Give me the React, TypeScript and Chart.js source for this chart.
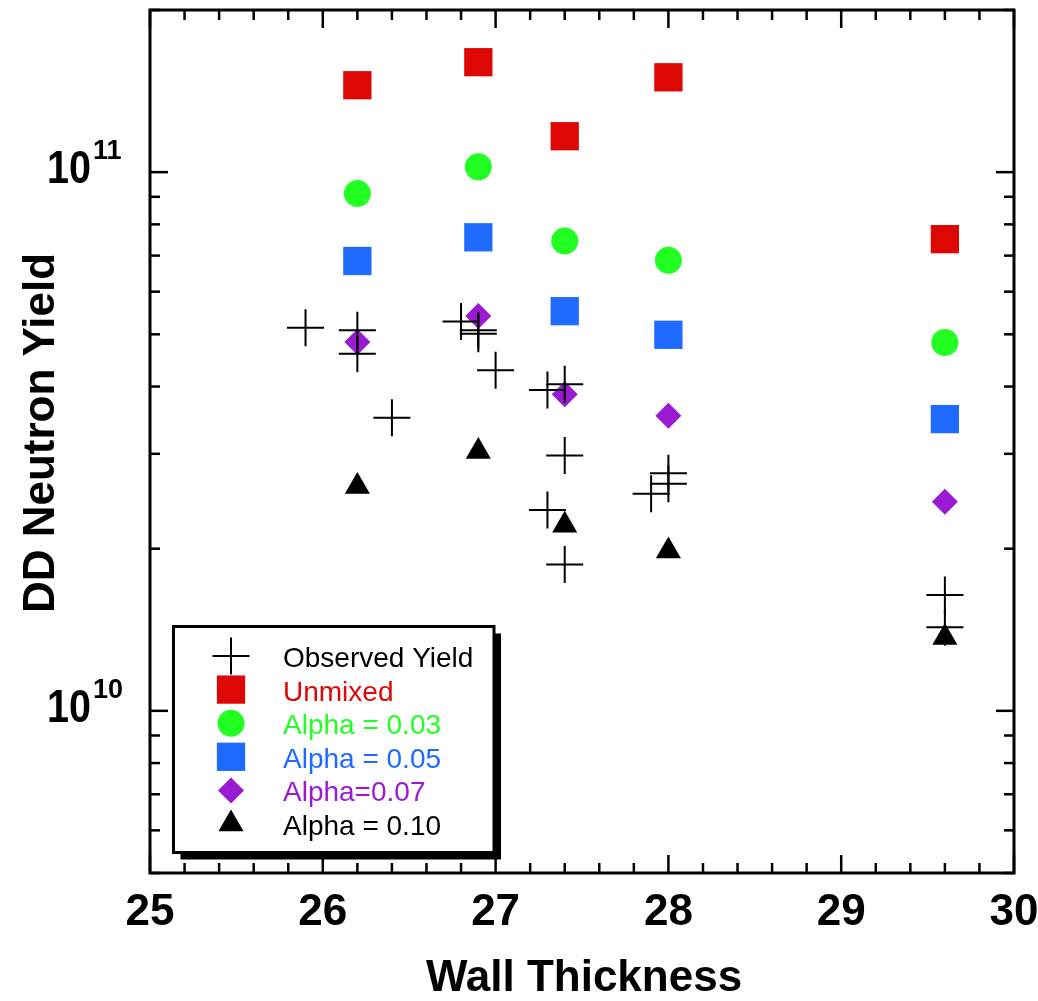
import React, { useEffect, useRef } from 'react';
import { Chart, registerables } from 'chart.js';

Chart.register(...registerables);

// ---------- data ----------
const observedX = [25.9, 26.2, 26.2, 26.4, 26.8, 26.9, 26.9, 27.0, 27.3, 27.4, 27.4, 27.3, 27.4, 27.9, 28.0, 28.0, 29.6, 29.6];
const observedY = [5.14e10, 5.09e10, 4.6e10, 3.5e10, 5.28e10, 5.09e10, 5.01e10, 4.29e10, 3.94e10, 4.04e10, 2.98e10, 2.36e10, 1.87e10, 2.53e10, 2.76e10, 2.64e10, 1.64e10, 1.43e10];

const modelX = [26.2, 26.9, 27.4, 28.0, 29.6];
const unmixedY = [1.45e11, 1.6e11, 1.166e11, 1.5e11, 7.51e10];
const alpha03Y = [9.13e10, 1.023e11, 7.45e10, 6.86e10, 4.83e10];
const alpha05Y = [6.84e10, 7.57e10, 5.52e10, 4.99e10, 3.48e10];
const alpha07Y = [4.84e10, 5.41e10, 3.87e10, 3.53e10, 2.445e10];
const alpha10Y = [2.61e10, 3.03e10, 2.21e10, 1.98e10, 1.368e10];

const seriesLabels = ['Observed Yield', 'Unmixed', 'Alpha = 0.03', 'Alpha = 0.05', 'Alpha=0.07', 'Alpha = 0.10'];
const seriesColors = ['#000000', '#DD0806', '#22FF22', '#1F6BFF', '#9A1AD4', '#000000'];

const xTickValues = [25, 26, 27, 28, 29, 30];
const yMajorTicks = [1e10, 1e11];
const xTitle = 'Wall Thickness';
const yTitle = 'DD Neutron Yield';

const X_MIN = 25;
const X_MAX = 30;
const Y_MIN = 5e9;
const Y_MAX = 2e11;

const FONT = '"Liberation Sans", Arial, Helvetica, sans-serif';

// marker styles (pointStyle, radius)
const markerStyles: { style: string; radius: number }[] = [
  { style: 'cross', radius: 18.5 },
  { style: 'rect', radius: 20 },
  { style: 'circle', radius: 13.5 },
  { style: 'rect', radius: 20 },
  { style: 'rectRot', radius: 13 },
  { style: 'triangle', radius: 14.5 },
];

function drawMarker(ctx: CanvasRenderingContext2D, style: string, r: number, x: number, y: number, color: string) {
  ctx.save();
  ctx.fillStyle = color;
  ctx.strokeStyle = color;
  ctx.beginPath();
  if (style === 'cross') {
    ctx.lineWidth = 2;
    ctx.moveTo(x - r, y);
    ctx.lineTo(x + r, y);
    ctx.moveTo(x, y - r);
    ctx.lineTo(x, y + r);
    ctx.stroke();
  } else if (style === 'rect') {
    const s = Math.SQRT1_2 * r;
    ctx.rect(x - s, y - s, 2 * s, 2 * s);
    ctx.fill();
  } else if (style === 'circle') {
    ctx.arc(x, y, r, 0, Math.PI * 2);
    ctx.fill();
  } else if (style === 'rectRot') {
    ctx.moveTo(x - r, y);
    ctx.lineTo(x, y - r);
    ctx.lineTo(x + r, y);
    ctx.lineTo(x, y + r);
    ctx.closePath();
    ctx.fill();
  } else if (style === 'triangle') {
    const w = r * Math.sqrt(3) / 2;
    ctx.moveTo(x, y - r);
    ctx.lineTo(x + w, y + r / 2);
    ctx.lineTo(x - w, y + r / 2);
    ctx.closePath();
    ctx.fill();
  }
  ctx.restore();
}

const legendPlugin = {
  id: 'boxLegend',
  afterDatasetsDraw(chart: any) {
    const ctx: CanvasRenderingContext2D = chart.ctx;
    const left = 173.5, top = 626.5, right = 494, bottom = 852.5;
    ctx.save();
    // shadow
    ctx.fillStyle = '#000';
    ctx.fillRect(left + 7, top + 7, right - left, bottom - top);
    ctx.fillStyle = '#fff';
    ctx.fillRect(left, top, right - left, bottom - top);
    ctx.lineWidth = 3;
    ctx.strokeStyle = '#000';
    ctx.strokeRect(left, top, right - left, bottom - top);

    ctx.font = `28px ${FONT}`;
    ctx.textAlign = 'left';
    ctx.textBaseline = 'alphabetic';
    seriesLabels.forEach((label, i) => {
      const baseY = 667 + i * 33.6;
      const m = markerStyles[i];
      drawMarker(ctx, m.style, m.radius, 231, baseY - 11, seriesColors[i]);
      ctx.fillStyle = seriesColors[i];
      ctx.fillText(label, 283, baseY);
    });
    ctx.restore();
  },
};

const framePlugin = {
  id: 'frame',
  afterDraw(chart: any) {
    const ctx: CanvasRenderingContext2D = chart.ctx;
    const a = chart.chartArea;
    const xs = chart.scales.x;
    const ys = chart.scales.y;
    ctx.save();
    ctx.strokeStyle = '#000';
    ctx.fillStyle = '#000';
    ctx.lineCap = 'butt';
    ctx.lineWidth = 2.5;
    const line = (x1: number, y1: number, x2: number, y2: number) => {
      ctx.beginPath();
      ctx.moveTo(x1, y1);
      ctx.lineTo(x2, y2);
      ctx.stroke();
    };
    // x ticks (inward, top & bottom), minor every 0.2
    const nx = Math.round((X_MAX - X_MIN) / 0.2);
    for (let i = 0; i <= nx; i++) {
      const v = X_MIN + i * 0.2;
      const px = xs.getPixelForValue(v);
      const len = i % 5 === 0 ? 18 : 10;
      line(px, a.bottom, px, a.bottom - len);
      line(px, a.top, px, a.top + len);
    }
    // y ticks (log, inward, left & right)
    for (let d = 9; d <= 11; d++) {
      for (let m = 1; m <= 9; m++) {
        const v = m * Math.pow(10, d);
        if (v < Y_MIN * 0.999 || v > Y_MAX * 1.001) continue;
        const py = ys.getPixelForValue(v);
        const len = m === 1 ? 18 : 10;
        line(a.left, py, a.left + len, py);
        line(a.right, py, a.right - len, py);
      }
    }
    // frame
    ctx.lineWidth = 3;
    ctx.strokeRect(a.left, a.top, a.right - a.left, a.bottom - a.top);

    // x tick labels
    ctx.font = `bold 44px ${FONT}`;
    ctx.textAlign = 'center';
    ctx.textBaseline = 'alphabetic';
    xTickValues.forEach((v) => {
      const px = xs.getPixelForValue(v);
      ctx.fillText(String(v), px, 925);
    });

    // y tick labels 10^n
    yMajorTicks.forEach((v) => {
      const py = ys.getPixelForValue(v);
      const exp = Math.round(Math.log10(v));
      ctx.save();
      ctx.translate(91, py + 11);
      ctx.scale(0.84, 1);
      ctx.font = `bold 47px ${FONT}`;
      ctx.textAlign = 'right';
      ctx.fillText('10', 0, 0);
      ctx.restore();
      ctx.font = `bold 27px ${FONT}`;
      ctx.textAlign = 'left';
      ctx.fillText(String(exp), 93, py - 13);
    });

    // titles
    ctx.font = `bold 44px ${FONT}`;
    ctx.textAlign = 'center';
    ctx.fillText(xTitle, (a.left + a.right) / 2 + 2, 991);

    ctx.save();
    ctx.translate(54, 433);
    ctx.rotate(-Math.PI / 2);
    ctx.font = `bold 44px ${FONT}`;
    ctx.textAlign = 'center';
    ctx.fillText(yTitle, 0, 0);
    ctx.restore();

    ctx.restore();
  },
};

function toPoints(xs: number[], ys: number[]) {
  return xs.map((x, i) => ({ x, y: ys[i] }));
}

export default function App() {
  const canvasRef = useRef<HTMLCanvasElement | null>(null);

  useEffect(() => {
    const canvas = canvasRef.current;
    if (!canvas) return;
    const seriesY = [observedY, unmixedY, alpha03Y, alpha05Y, alpha07Y, alpha10Y];
    const datasets = seriesY.map((ys, i) => {
      const m = markerStyles[i];
      const isCross = m.style === 'cross';
      return {
        label: seriesLabels[i],
        data: toPoints(i === 0 ? observedX : modelX, ys),
        pointStyle: m.style,
        pointRadius: m.radius,
        pointBackgroundColor: seriesColors[i],
        pointBorderColor: seriesColors[i],
        pointBorderWidth: isCross ? 2 : 0,
        showLine: false,
      };
    });

    const chart = new Chart(canvas, {
      type: 'scatter',
      data: { datasets: datasets as any },
      options: {
        animation: false,
        responsive: false,
        devicePixelRatio: 1,
        events: [],
        layout: { autoPadding: false, padding: { left: 150, right: 24, top: 10, bottom: 128 } },
        plugins: {
          legend: { display: false },
          tooltip: { enabled: false },
        },
        scales: {
          x: {
            type: 'linear',
            display: false,
            min: X_MIN,
            max: X_MAX,
          },
          y: {
            type: 'logarithmic',
            display: false,
            min: Y_MIN,
            max: Y_MAX,
          },
        },
      },
      plugins: [legendPlugin, framePlugin],
    });

    return () => {
      chart.destroy();
    };
  }, []);

  return (
    <div style={{ position: 'fixed', left: 0, top: 0, width: 1038, height: 1001, background: '#fff' }}>
      <canvas ref={canvasRef} width={1038} height={1001} style={{ display: 'block', width: 1038, height: 1001 }} />
    </div>
  );
}
